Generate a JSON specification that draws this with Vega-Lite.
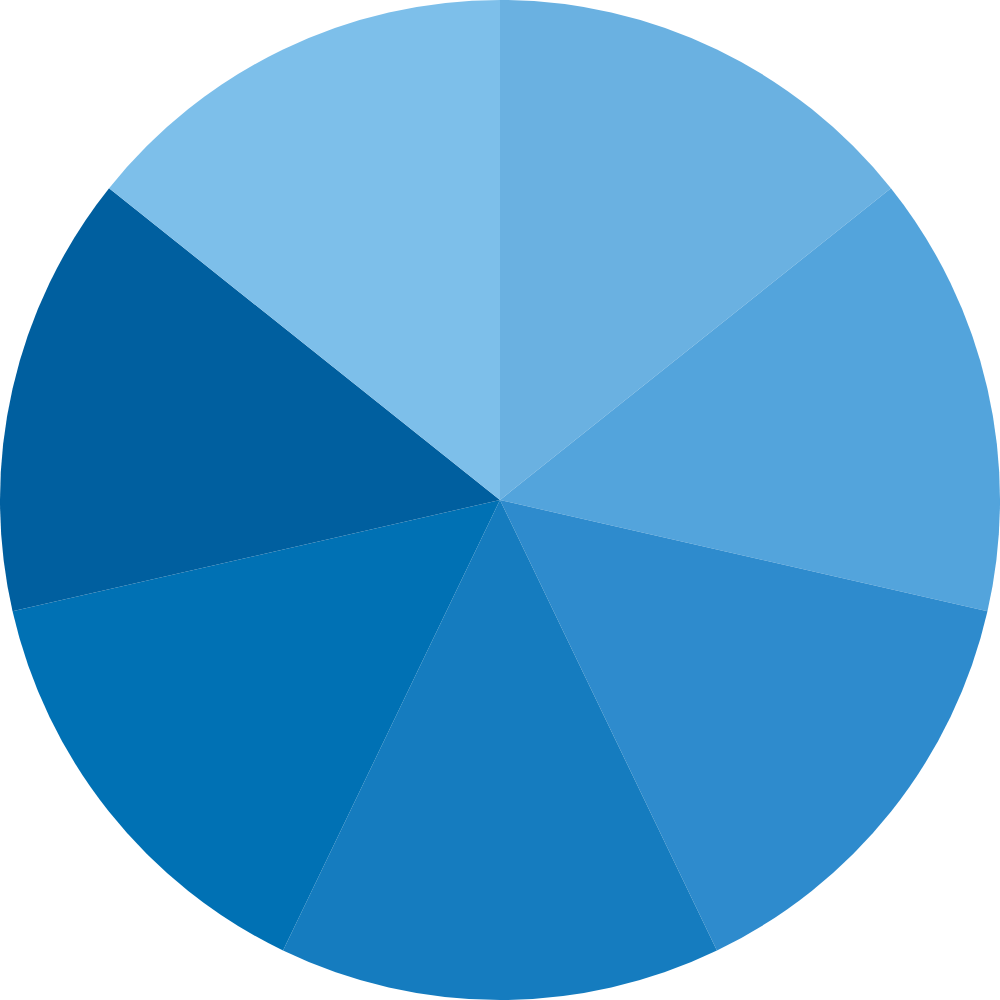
{
  "$schema": "https://vega.github.io/schema/vega-lite/v6.json",
  "autosize": {"type": "fit", "contains": "padding"},
  "width": 1000,
  "height": 1000,
  "padding": 0,
  "background": "white",
  "view": {"stroke": null},
  "data": {
    "values": [
      {"slice": "A", "order": 1, "value": 1},
      {"slice": "B", "order": 2, "value": 1},
      {"slice": "C", "order": 3, "value": 1},
      {"slice": "D", "order": 4, "value": 1},
      {"slice": "E", "order": 5, "value": 1},
      {"slice": "F", "order": 6, "value": 1},
      {"slice": "G", "order": 7, "value": 1}
    ]
  },
  "mark": {"type": "arc", "outerRadius": 500, "stroke": null},
  "encoding": {
    "theta": {"field": "value", "type": "quantitative", "stack": true},
    "order": {"field": "order", "type": "quantitative"},
    "color": {
      "field": "slice",
      "type": "nominal",
      "legend": null,
      "scale": {
        "domain": ["A", "B", "C", "D", "E", "F", "G"],
        "range": ["#6AB1E1", "#53A4DC", "#2E8BCD", "#157CBF", "#0071B4", "#005F9F", "#7DBFEA"]
      }
    }
  }
}
